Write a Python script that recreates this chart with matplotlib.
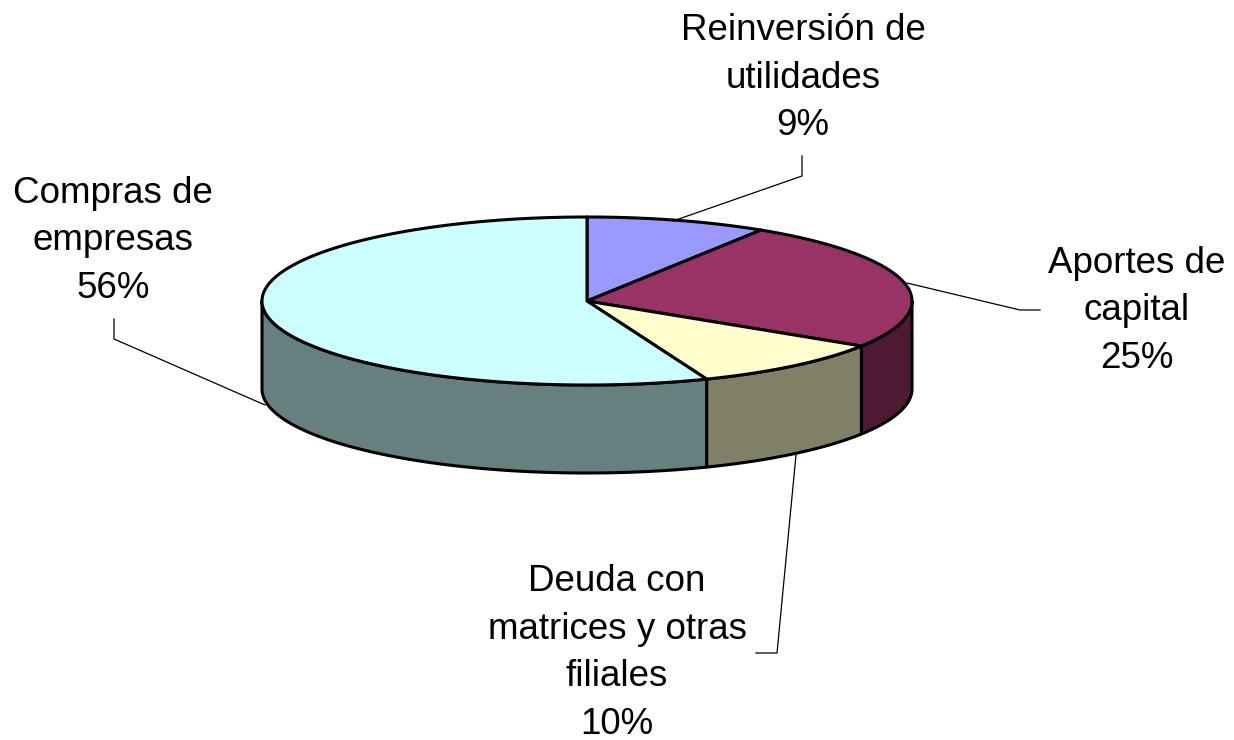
import numpy as np
import matplotlib.pyplot as plt

plt.rcParams['font.family'] = ['Liberation Sans', 'DejaVu Sans']

# data (clockwise from 12 o'clock)
categories = ['Reinversión de\nutilidades', 'Aportes de\ncapital',
              'Deuda con\nmatrices y otras\nfiliales', 'Compras de\nempresas']
shares = [9, 25, 10, 56]
top_colors = ['#9999FF', '#993366', '#FFFFCC', '#CCFFFF']
side_colors = ['#4D4D80', '#4D1933', '#808066', '#668080']

# layout of the pseudo-3D pie (pixel coordinates)
cx, cy = 587, 301
rx, ry = 325, 84
depth = 88

# label positions and leader lines
label_xy = [(803, 78), (1137, 311), (617, 653), (113, 241)]
leaders = [
    [(673, 221), (802, 176), (802, 156)],
    [(907, 283), (1020, 310), (1040, 310)],
    [(796, 455), (777, 653), (756, 653)],
    [(265, 405), (114, 339), (114, 319)],
]


def ell(theta, dz=0.0):
    t = np.radians(theta)
    return cx + rx * np.sin(t), cy - ry * np.cos(t) + dz


fig = plt.figure(figsize=(12.34, 7.40), dpi=100)
ax = fig.add_axes([0, 0, 1, 1])
ax.set_xlim(0, 1234)
ax.set_ylim(740, 0)
ax.axis('off')

bounds = np.concatenate([[0], np.cumsum(shares)]) / sum(shares) * 360

# side walls (visible front part: 90..270 deg)
for i in range(len(shares)):
    a0 = max(bounds[i], 90)
    a1 = min(bounds[i + 1], 270)
    if a1 <= a0:
        continue
    th = np.linspace(a0, a1, 100)
    xt, yt = ell(th)
    xb, yb = ell(th[::-1], depth)
    ax.fill(np.concatenate([xt, xb]), np.concatenate([yt, yb]),
            facecolor=side_colors[i], edgecolor='black', linewidth=2.2,
            joinstyle='round')

# top faces
for i in range(len(shares)):
    th = np.linspace(bounds[i], bounds[i + 1], 200)
    xt, yt = ell(th)
    ax.fill(np.concatenate([[cx], xt]), np.concatenate([[cy], yt]),
            facecolor=top_colors[i], edgecolor='black', linewidth=2.2,
            joinstyle='round')

# labels
for i, name in enumerate(categories):
    x, y = label_xy[i]
    ax.text(x, y, f'{name}\n{shares[i]}%', ha='center', va='center',
            fontsize=26.5, linespacing=1.47, color='black')
    pts = np.array(leaders[i])
    ax.plot(pts[:, 0], pts[:, 1], color='black', linewidth=0.9)

fig.savefig('out.png', dpi=100)
